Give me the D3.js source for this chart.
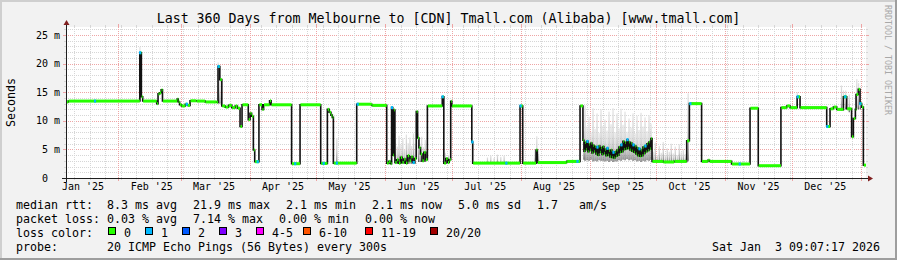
<!DOCTYPE html>
<html>
<head>
<meta charset="utf-8">
<script src="https://cdn.jsdelivr.net/npm/d3@7"></script>
<style>
html, body { margin: 0; padding: 0; background: #f2f2f2; }
svg { display: block; }
text { font-family: "DejaVu Sans Mono", monospace; fill: #000; white-space: pre; }
</style>
</head>
<body>
<svg id="chart" width="897" height="260"></svg>
<script>
// --- data ---------------------------------------------------------------
// times are days since 2025-01-01 00:00 (local wall clock), rtt in ms
var yearStart = Date.UTC(2025, 0, 1);
var startTime = Date.UTC(2025, 0, 8, 9, 7, 17);
var endTime = Date.UTC(2026, 0, 3, 9, 7, 17);

var titleText = "Last 360 Days from Melbourne to [CDN] Tmall.com (Alibaba) [www.tmall.com]";

// median rtt, each value holds until the next entry
var medianRtt = [
	[7.38, 13.3], [8.4, 13.45], [40.6, 21.9], [41.3, 14.2], [41.9, 13.45],
	[48.2, 13.0], [48.8, 14.7], [49.5, 14.9], [50.2, 15.4], [50.8, 13.45],
	[57.4, 13.8], [57.9, 13.3], [58.5, 12.8], [59.4, 12.6], [61.0, 12.9], [62.0, 12.7],
	[63.2, 13.5], [66.0, 13.45], [70.0, 13.3], [75.2, 13.25],
	[75.8, 19.5], [76.6, 17.2], [77.5, 12.6], [79.0, 12.4], [80.5, 12.7], [82.0, 12.3],
	[83.5, 12.6], [84.5, 12.2], [85.7, 9.0], [86.6, 12.8], [89.4, 10.2], [90.2, 11.3],
	[90.9, 10.8], [91.7, 4.9], [92.3, 2.85], [94.2, 12.8], [95.6, 12.0], [96.3, 12.8],
	[99.0, 13.5], [99.7, 12.8], [108.9, 2.5], [112.7, 12.8], [122.0, 2.55],
	[125.0, 12.0], [125.8, 11.5], [126.6, 11.0], [127.2, 10.6], [127.7, 2.6],
	[138.2, 12.9], [145.0, 12.7],
	[151.7, 2.6], [152.6, 2.9], [153.4, 2.5], [153.9, 12.3], [154.4, 4.0], [154.9, 11.9],
	[155.4, 2.7], [156.2, 3.2], [157.0, 2.6], [157.9, 3.6], [158.6, 2.7], [159.4, 3.3],
	[160.2, 2.6], [161.0, 3.9], [161.8, 3.0], [162.6, 3.7], [163.4, 2.7], [164.2, 3.4],
	[165.0, 11.6], [165.6, 7.0], [166.2, 5.3], [166.9, 4.2], [167.6, 3.0], [168.4, 4.5],
	[169.2, 3.2], [170.0, 12.6], [176.7, 14.2], [177.4, 2.6], [178.3, 3.4], [179.1, 2.7],
	[179.8, 3.2], [180.5, 13.4], [181.0, 12.6],
	[190.0, 6.3], [190.4, 2.6], [211.7, 12.6], [212.9, 2.6], [218.9, 4.9], [219.5, 2.7],
	[232.7, 2.9], [238.7, 12.6],
	[240.0, 6.6], [240.45, 4.7], [240.9, 6.2], [241.35, 5.0], [241.8, 6.4], [242.25, 4.6],
	[242.7, 5.9], [243.15, 4.9], [243.6, 6.1], [244.05, 4.4], [244.5, 5.7], [244.95, 4.6],
	[245.4, 5.5], [245.85, 4.2], [246.3, 5.4], [246.75, 4.0], [247.2, 5.6], [247.65, 4.5],
	[248.1, 5.3], [248.55, 4.1], [249.0, 5.5], [249.45, 4.3], [249.9, 5.0], [250.35, 3.9],
	[250.8, 5.2], [251.25, 4.0], [251.7, 4.8], [252.15, 3.7], [252.6, 4.9], [253.05, 3.6],
	[253.5, 4.5], [253.95, 3.5], [254.4, 4.6], [254.85, 3.8], [255.3, 4.9], [255.75, 4.0],
	[256.2, 5.4], [256.65, 4.5], [257.1, 5.8], [257.55, 4.6], [258.0, 6.4], [258.45, 5.0],
	[258.9, 6.2], [259.35, 5.1], [259.8, 6.7], [260.25, 5.2], [260.7, 6.3], [261.15, 4.9],
	[261.6, 6.1], [262.05, 4.7], [262.5, 5.8], [262.95, 4.5], [263.4, 5.6], [263.85, 4.2],
	[264.3, 5.3], [264.75, 3.9], [265.2, 5.1], [265.65, 3.8], [266.1, 4.9], [266.55, 3.9],
	[267.0, 5.4], [267.45, 4.3], [267.9, 5.6], [268.35, 4.6], [268.8, 6.0], [269.25, 4.8],
	[269.7, 6.3], [270.15, 5.1], [270.6, 6.9],
	[271.1, 2.9], [276.0, 2.8], [281.0, 2.9], [286.7, 6.5], [287.9, 13.0], [293.4, 2.9],
	[296.2, 3.1], [297.0, 2.9], [306.9, 2.45], [315.2, 12.2], [318.9, 2.15],
	[329.1, 12.3], [331.7, 12.6], [333.2, 12.3], [336.4, 14.2], [337.7, 12.3],
	[349.7, 9.0], [351.2, 12.1], [352.7, 12.4], [354.2, 12.0], [357.2, 14.2], [358.7, 12.1],
	[360.9, 7.2], [361.7, 10.4], [362.6, 12.0], [362.9, 14.6], [363.9, 15.5], [364.7, 13.0],
	[365.4, 12.4], [366.2, 2.25]
];

// samples where 1 of 20 pings was lost
var lossOneDays = [20.4, 40.7, 61.7, 76.0, 93.6, 110.5, 123.3, 129.2, 138.6, 154.0, 163.8,
	176.8, 190.2, 205.5, 211.9, 237.5, 242.0, 246.5, 251.0, 253.7, 257.3, 260.0, 262.7,
	265.4, 268.1, 288.3, 310.5, 336.6, 349.9, 358.0, 364.8];

// smoke: [day, lowest ping, highest ping]
var smoke = [
	[40.6, 13.4, 22.9], [75.8, 13.0, 20.2], [76.6, 13.0, 18.0], [129.2, 2.5, 7.0],
	[155.6, 2.5, 6.8], [156.4, 2.5, 5.5], [157.2, 2.5, 7.4], [158.1, 2.5, 5.9], [158.9, 2.5, 7.0],
	[159.7, 2.5, 5.0], [160.5, 2.5, 7.6], [161.3, 2.5, 6.1], [162.1, 2.5, 7.1], [162.9, 2.5, 5.6],
	[163.7, 2.5, 7.8], [164.5, 2.5, 6.0], [166.0, 2.8, 7.8], [166.7, 2.8, 6.0], [167.4, 2.8, 7.2],
	[168.2, 2.8, 5.4], [169.0, 2.8, 6.7], [178.0, 2.6, 4.4], [179.5, 2.6, 4.0],
	[197.0, 2.5, 3.6], [198.5, 2.5, 3.9], [200.0, 2.5, 3.5], [201.5, 2.5, 4.1], [203.0, 2.5, 3.7],
	[204.5, 2.5, 3.9], [218.4, 2.5, 5.0], [219.2, 2.5, 7.3], [220.0, 2.5, 4.2],
	[240.4, 3.2, 8.2], [240.9, 3.0, 12.7], [241.8, 3.1, 9.0], [242.7, 3.0, 10.7], [243.6, 3.2, 8.0],
	[244.5, 2.9, 12.2], [245.4, 3.0, 8.6], [246.3, 2.9, 11.3], [247.2, 3.1, 7.9], [248.1, 3.0, 12.0],
	[249.0, 3.0, 9.1], [249.9, 2.9, 10.2], [250.8, 3.0, 8.3], [251.7, 2.8, 11.6], [252.6, 3.0, 9.4],
	[253.5, 2.8, 12.2], [254.4, 2.9, 8.0], [255.3, 2.9, 11.3], [256.2, 3.1, 8.7], [257.1, 3.0, 12.1],
	[258.0, 3.2, 9.3], [258.9, 3.1, 11.6], [259.8, 3.3, 8.1], [260.7, 3.1, 10.4], [261.6, 3.2, 8.8],
	[262.5, 3.0, 11.3], [263.4, 3.1, 7.8], [264.3, 2.9, 10.9], [265.2, 3.0, 8.4], [266.1, 2.8, 11.4],
	[267.0, 3.0, 9.0], [267.9, 2.9, 10.6], [268.8, 3.1, 8.2], [269.7, 3.0, 11.0], [270.6, 3.2, 9.5],
	[271.6, 2.8, 4.6], [272.5, 2.8, 6.2], [273.4, 2.8, 4.0], [274.3, 2.8, 5.6], [275.2, 2.8, 4.4],
	[276.1, 2.8, 6.3], [277.0, 2.8, 4.1], [277.9, 2.8, 5.2], [278.8, 2.8, 4.6], [279.7, 2.8, 6.0],
	[280.6, 2.8, 4.3], [281.5, 2.8, 5.5], [282.4, 2.8, 4.0], [283.3, 2.8, 5.9], [284.2, 2.8, 4.5],
	[285.1, 2.8, 5.0], [286.0, 2.8, 4.2], [287.3, 3.0, 14.8],
	[336.4, 12.3, 15.0], [356.3, 11.8, 16.2], [357.2, 11.8, 15.3], [358.2, 12.0, 15.3],
	[359.8, 11.5, 14.6], [363.2, 12.0, 17.3], [364.0, 12.0, 16.6], [364.8, 12.0, 15.5]
];

var yMax = 26.4;
var yTickValues = [0, 5, 10, 15, 20, 25];
var yTickLabels = ["0", "5 m", "10 m", "15 m", "20 m", "25 m"];
var monthLabels = ["Jan '25", "Feb '25", "Mar '25", "Apr '25", "May '25", "Jun '25",
	"Jul '25", "Aug '25", "Sep '25", "Oct '25", "Nov '25", "Dec '25"];

var legendMedian = ["median rtt:  8.3 ms avg", "21.9 ms max", "2.1 ms min", "2.1 ms now", "5.0 ms sd", "1.7   am/s"];
var legendLoss = ["packet loss: 0.03 % avg", "7.14 % max", "0.00 % min", "0.00 % now"];
var lossLabels = ["0", "1", "2", "3", "4-5", "6-10", "11-19", "20/20"];
var lossColors = ["#26ff00", "#00b8ff", "#0059ff", "#7e00ff", "#ff00ff", "#ff5500", "#ff0000", "#a10000"];
var probeText = "20 ICMP Echo Pings (56 Bytes) every 300s";
var stampText = "Sat Jan  3 09:07:17 2026";

// --- layout -------------------------------------------------------------
var W = 897, H = 260;
var plot = {left: 66, right: 866, top: 27, bottom: 178};
var legendFont = 11.63, axisFont = 9.97, titleFont = 13.29;
var lossBoxX = [108, 145, 182, 219, 256, 303, 365, 430];

function dayToDate(d) { return new Date(yearStart + d * 864e5); }
var endDay = (endTime - yearStart) / 864e5;

var svg = d3.select("#chart");

var x = d3.scaleUtc().domain([startTime, endTime]).range([plot.left, plot.right]);
var y = d3.scaleLinear().domain([0, yMax]).range([plot.bottom, plot.top]);
function px(v) { return Math.round(v) + 0.5; }

// background + shading frame
svg.append("rect").attr("width", W).attr("height", H).attr("fill", "#f2f2f2");
svg.append("path").attr("d", "M0,0 H" + W + " V2 H2 V" + H + " H0 Z").attr("fill", "#cfcfcf");
svg.append("path").attr("d", "M" + W + "," + H + " H0 V" + (H - 2) + " H" + (W - 2) + " V0 H" + W + " Z").attr("fill", "#9e9e9e");

// canvas
svg.append("rect")
	.attr("x", plot.left).attr("y", plot.top)
	.attr("width", plot.right - plot.left).attr("height", plot.bottom - plot.top)
	.attr("fill", "#fff");

var grid = svg.append("g").attr("shape-rendering", "crispEdges");
var minorCol = "#d6d6d6", majorCol = "#eea5a5";

// horizontal grid
d3.range(1, Math.floor(yMax) + 1).forEach(function(v) {
	var major = v % 5 === 0;
	var yy = px(y(v));
	var ext = major ? 3 : 2;
	grid.append("line")
		.attr("x1", plot.left).attr("x2", plot.right)
		.attr("y1", yy).attr("y2", yy)
		.attr("stroke", major ? majorCol : minorCol)
		.attr("stroke-dasharray", "1,1");
	grid.append("line").attr("x1", plot.left - ext).attr("x2", plot.left).attr("y1", yy).attr("y2", yy)
		.attr("stroke", major ? majorCol : minorCol);
	grid.append("line").attr("x1", plot.right).attr("x2", plot.right + ext).attr("y1", yy).attr("y2", yy)
		.attr("stroke", major ? majorCol : minorCol);
});

// vertical grid: weeks (minor) and months (major)
var weeks = d3.utcSunday.range(new Date(startTime), new Date(endTime));
var months = d3.utcMonth.range(new Date(startTime), new Date(endTime));
function vLine(t, col, ext) {
	var xx = px(x(t));
	grid.append("line").attr("x1", xx).attr("x2", xx)
		.attr("y1", plot.top).attr("y2", plot.bottom)
		.attr("stroke", col).attr("stroke-dasharray", "1,1");
	grid.append("line").attr("x1", xx).attr("x2", xx).attr("y1", plot.top - ext).attr("y2", plot.top).attr("stroke", col);
	grid.append("line").attr("x1", xx).attr("x2", xx).attr("y1", plot.bottom).attr("y2", plot.bottom + ext).attr("stroke", col);
}
weeks.forEach(function(t) { vLine(t, minorCol, 2); });
months.forEach(function(t) { vLine(t, majorCol, 3); });

// smoke, darker towards the median
var defs = svg.append("defs");
var grad = defs.append("linearGradient").attr("id", "smokeGrad")
	.attr("x1", 0).attr("y1", 0).attr("x2", 0).attr("y2", 1);
grad.append("stop").attr("offset", "0%").attr("stop-color", "#e2e2e2");
grad.append("stop").attr("offset", "50%").attr("stop-color", "#c8c8c8");
grad.append("stop").attr("offset", "85%").attr("stop-color", "#8e8e8e");
grad.append("stop").attr("offset", "100%").attr("stop-color", "#555");

svg.append("g").selectAll("rect")
	.data(smoke)
	.enter()
	.append("rect")
	.attr("x", function(d) { return x(dayToDate(d[0])) - 0.5; })
	.attr("width", 1.2)
	.attr("y", function(d) { return y(d[2]); })
	.attr("height", function(d) { return y(d[1]) - y(d[2]); })
	.attr("fill", "url(#smokeGrad)");

// median line (black), loss coloured bands on top
var medPoints = medianRtt.concat([[endDay, medianRtt[medianRtt.length - 1][1]]]);
var line = d3.line()
	.x(function(d) { return x(dayToDate(d[0])); })
	.y(function(d) { return y(d[1]); })
	.curve(d3.curveStepAfter);
svg.append("path")
	.datum(medPoints)
	.attr("d", line)
	.attr("fill", "none")
	.attr("stroke", "#111")
	.attr("stroke-width", 1.6);

var segs = medianRtt.map(function(d, i) {
	return {from: d[0], to: medPoints[i + 1][0], v: d[1]};
});
svg.append("g").selectAll("rect")
	.data(segs)
	.enter()
	.append("rect")
	.attr("x", function(d) { return x(dayToDate(d.from)) + 0.4; })
	.attr("width", function(d) { return Math.max(0.6, x(dayToDate(d.to)) - x(dayToDate(d.from)) - 0.4); })
	.attr("y", function(d) { return y(d.v) - 1.5; })
	.attr("height", 3)
	.attr("fill", lossColors[0]);

var bis = d3.bisector(function(d) { return d[0]; }).right;
function medianAt(day) { return medianRtt[Math.max(0, bis(medianRtt, day) - 1)][1]; }
svg.append("g").selectAll("rect")
	.data(lossOneDays)
	.enter()
	.append("rect")
	.attr("x", function(d) { return x(dayToDate(d)) - 1; })
	.attr("width", 2.2)
	.attr("y", function(d) { return y(medianAt(d)) - 1.5; })
	.attr("height", 3)
	.attr("fill", lossColors[1]);

// axes
var axisCol = "#1f1f1f", arrowCol = "#801f1f";
svg.append("line").attr("x1", plot.left - 4).attr("x2", plot.right + 4)
	.attr("y1", plot.bottom + 0.5).attr("y2", plot.bottom + 0.5)
	.attr("stroke", axisCol).attr("shape-rendering", "crispEdges");
svg.append("line").attr("x1", plot.left + 0.5).attr("x2", plot.left + 0.5)
	.attr("y1", plot.bottom + 4).attr("y2", plot.top - 4)
	.attr("stroke", axisCol).attr("shape-rendering", "crispEdges");
svg.append("path")
	.attr("d", "M" + (plot.right + 2) + "," + (plot.bottom - 2.5) + " L" + (plot.right + 2) + "," + (plot.bottom + 3.5) +
		" L" + (plot.right + 7) + "," + (plot.bottom + 0.5) + " Z")
	.attr("fill", arrowCol);
svg.append("path")
	.attr("d", "M" + (plot.left - 2.5) + "," + (plot.top - 2) + " L" + (plot.left + 3.5) + "," + (plot.top - 2) +
		" L" + (plot.left + 0.5) + "," + (plot.top - 7) + " Z")
	.attr("fill", arrowCol);

// y labels
svg.append("g").selectAll("text")
	.data(yTickValues)
	.enter()
	.append("text")
	.attr("x", function(d, i) { return yTickLabels[i].indexOf("m") > 0 ? 60 : 48; })
	.attr("y", function(d) { return y(d) + 3.5; })
	.attr("text-anchor", "end")
	.style("font-size", axisFont + "px")
	.text(function(d, i) { return yTickLabels[i]; });

// x labels, centred in the month
var labelMonths = d3.utcMonth.range(new Date(Date.UTC(2025, 0, 1)), new Date(Date.UTC(2026, 0, 1)));
svg.append("g").selectAll("text")
	.data(labelMonths)
	.enter()
	.append("text")
	.attr("x", function(d) { return x(d3.utcDay.offset(d, 15)); })
	.attr("y", 189.5)
	.attr("text-anchor", "middle")
	.style("font-size", axisFont + "px")
	.text(function(d, i) { return monthLabels[i]; });

// title, vertical label, watermark
svg.append("text").attr("x", 448.5).attr("y", 22.5).attr("text-anchor", "middle")
	.style("font-size", titleFont + "px").text(titleText);
svg.append("text").attr("transform", "translate(14.5,102.5) rotate(-90)").attr("text-anchor", "middle")
	.style("font-size", legendFont + "px").text("Seconds");
svg.append("text").attr("transform", "translate(885,5) rotate(90)")
	.style("font-size", "8.3px").style("fill", "#a8a8a8").text("RRDTOOL / TOBI OETIKER");

// legend
function legendRow(items, yy) {
	var xx = 16;
	items.forEach(function(s) {
		var t = svg.append("text").attr("x", xx).attr("y", yy)
			.attr("xml:space", "preserve")
			.style("font-size", legendFont + "px").text(s);
		xx += t.node().getComputedTextLength() + 16;
	});
}
legendRow(legendMedian, 208.5);
legendRow(legendLoss, 222.5);

svg.append("text").attr("x", 16).attr("y", 236.5).style("font-size", legendFont + "px").text("loss color:");
lossLabels.forEach(function(lbl, i) {
	svg.append("rect").attr("x", lossBoxX[i] + 0.5).attr("y", 227.5).attr("width", 7).attr("height", 7)
		.attr("fill", lossColors[i]).attr("stroke", "#000").attr("stroke-width", 1);
	svg.append("text").attr("x", lossBoxX[i] + 16).attr("y", 236.5)
		.style("font-size", legendFont + "px").text(lbl);
});

svg.append("text").attr("x", 16).attr("y", 250.5).style("font-size", legendFont + "px").text("probe:");
svg.append("text").attr("x", 107).attr("y", 250.5).style("font-size", legendFont + "px").text(probeText);
svg.append("text").attr("x", 880).attr("y", 250.5).attr("text-anchor", "end")
	.attr("xml:space", "preserve")
	.style("font-size", legendFont + "px").text(stampText);
</script>
</body>
</html>
